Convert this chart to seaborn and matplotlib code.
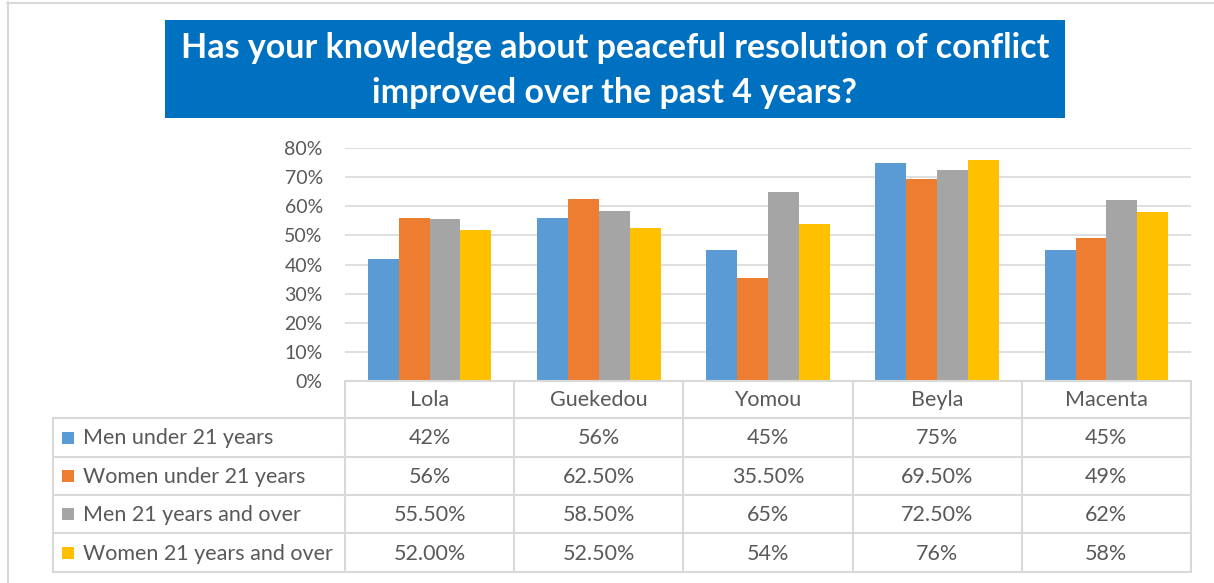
import matplotlib
matplotlib.use('Agg')
import matplotlib.pyplot as plt
import matplotlib.transforms as mtransforms
import pandas as pd
import seaborn as sns
from matplotlib.lines import Line2D
from matplotlib.patches import Rectangle
from matplotlib.ticker import PercentFormatter

# Data
CITIES = ['Lola', 'Guekedou', 'Yomou', 'Beyla', 'Macenta']
GROUPS = ['Men under 21 years', 'Women under 21 years',
          'Men 21 years and over', 'Women 21 years and over']
men_under_21 = [0.42, 0.56, 0.45, 0.75, 0.45]
women_under_21 = [0.56, 0.625, 0.355, 0.695, 0.49]
men_21_over = [0.555, 0.585, 0.65, 0.725, 0.62]
women_21_over = [0.52, 0.525, 0.54, 0.76, 0.58]
table_labels = [
    ['42%', '56%', '45%', '75%', '45%'],
    ['56%', '62.50%', '35.50%', '69.50%', '49%'],
    ['55.50%', '58.50%', '65%', '72.50%', '62%'],
    ['52.00%', '52.50%', '54%', '76%', '58%'],
]
yticks = [0, 0.1, 0.2, 0.3, 0.4, 0.5, 0.6, 0.7, 0.8]
TITLE = 'Has your knowledge about peaceful resolution of conflict\nimproved over the past 4 years?'

COLORS = ['#5B9BD5', '#ED7D31', '#A5A5A5', '#FFC000']
GRID = '#D9D9D9'
TXT = '#595959'

W, H = 1214, 583


def fx(px):
    return px / W


def fy(py):
    return 1 - py / H


series = [men_under_21, women_under_21, men_21_over, women_21_over]
rows = []
for g, vals in zip(GROUPS, series):
    for c, v in zip(CITIES, vals):
        rows.append({'city': c, 'group': g, 'value': v})
df = pd.DataFrame(rows)

sns.set_theme(style='white')
plt.rcParams['font.family'] = ['Lato', 'DejaVu Sans']

fig = plt.figure(figsize=(W / 100, H / 100), dpi=100)
fig.patch.set_facecolor('white')

# plot area
left, right, top, bottom = 345, 1191, 148, 381
ax = fig.add_axes([fx(left), fy(bottom), fx(right - left), fy(top) - fy(bottom)])
sns.barplot(data=df, x='city', y='value', hue='group', palette=COLORS,
            width=0.73, saturation=1, linewidth=0, legend=False, ax=ax)
ax.set_xlim(-0.5, len(CITIES) - 0.5)
ax.set_ylim(0, 0.8)
ax.set_yticks(yticks)
ax.yaxis.set_major_formatter(PercentFormatter(1.0, decimals=0))
ax.set_xticks([])
ax.set_xlabel('')
ax.set_ylabel('')
ax.tick_params(axis='y', length=0, pad=16, labelsize=14, labelcolor=TXT)
ax.grid(axis='y', color=GRID, lw=1.2)
ax.set_axisbelow(True)
for s in ax.spines.values():
    s.set_visible(False)

# data table below the chart
lw = 1.5
fs = 15.5
blend = mtransforms.blended_transform_factory(ax.transData, fig.transFigure)
row_lines = [418, 457, 495, 533, 572]
header_y = (381 + 418) / 2

fig.add_artist(Line2D([fx(left), fx(right)], [fy(381), fy(381)],
                      transform=fig.transFigure, color=GRID, lw=lw))
for y in row_lines:
    fig.add_artist(Line2D([fx(53), fx(right)], [fy(y), fy(y)],
                          transform=fig.transFigure, color=GRID, lw=lw))
fig.add_artist(Line2D([fx(53), fx(53)], [fy(418), fy(572)],
                      transform=fig.transFigure, color=GRID, lw=lw))
for i in range(len(CITIES) + 1):
    fig.add_artist(Line2D([i - 0.5, i - 0.5], [fy(381), fy(572)],
                          transform=blend, color=GRID, lw=lw))

for i, c in enumerate(CITIES):
    fig.text(i, fy(header_y + 1), c, transform=blend, ha='center', va='center',
             fontsize=fs, color=TXT)

for r, (g, col, labels) in enumerate(zip(GROUPS, COLORS, table_labels)):
    yc = (row_lines[r] + row_lines[r + 1]) / 2
    fig.add_artist(Rectangle((fx(62), fy(yc + 6)), fx(12), fy(0) - fy(12),
                             transform=fig.transFigure, facecolor=col, edgecolor='none'))
    fig.text(fx(83), fy(yc + 1), g, ha='left', va='center', fontsize=fs, color=TXT)
    for i, lab in enumerate(labels):
        fig.text(i, fy(yc + 1), lab, transform=blend, ha='center', va='center',
                 fontsize=fs, color=TXT)

# title box
fig.add_artist(Rectangle((fx(165), fy(118)), fx(1065 - 165), fy(20) - fy(118),
                         transform=fig.transFigure, facecolor='#0070C0', edgecolor='none'))
title_lines = TITLE.split('\n')
fig.text(fx(615), fy(48), title_lines[0], ha='center', va='center', fontsize=24.5,
         fontweight='bold', color='white')
fig.text(fx(615), fy(93), title_lines[1], ha='center', va='center', fontsize=24.5,
         fontweight='bold', color='white')

# chart border (only top and left visible)
fig.add_artist(Line2D([fx(7.5), fx(7.5)], [fy(2), 0], transform=fig.transFigure, color=GRID, lw=1.5))
fig.add_artist(Line2D([fx(7), 1], [fy(2.5), fy(2.5)], transform=fig.transFigure, color=GRID, lw=1.5))

fig.savefig('out.png', dpi=100, facecolor='white')
plt.close(fig)
